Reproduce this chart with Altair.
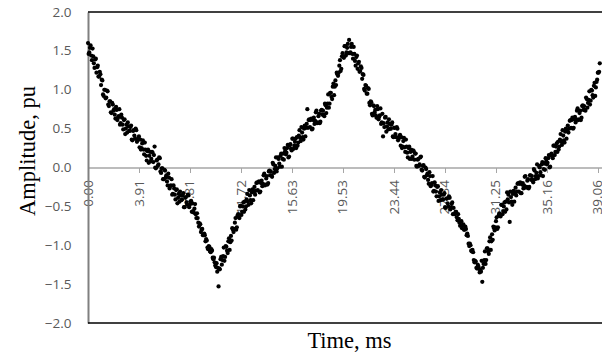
import altair as alt
import pandas as pd

# sampling period of the record, ms (two interleaved sample sets, 0.05 ms apart)
step_ms = 0.1
offset_b_ms = 0.05

# amplitude samples (pu), at t = 0.0, 0.1, 0.2 ... ms
amplitude_a = [
    1.60, 1.48, 1.57, 1.38, 1.43, 1.28, 1.40, 1.29, 1.17, 1.23,
    1.06, 1.12, 0.92, 1.00, 0.90, 0.98, 0.79, 0.85, 0.70, 0.81,
    0.75, 0.63, 0.74, 0.64, 0.75, 0.57, 0.64, 0.49, 0.62, 0.50,
    0.45, 0.53, 0.47, 0.54, 0.35, 0.48, 0.37, 0.48, 0.35, 0.40,
    0.36, 0.25, 0.35, 0.17, 0.23, 0.09, 0.23, 0.15, 0.08, 0.20,
    0.07, 0.27, -0.01, 0.10, 0.04, 0.12, -0.07, -0.01, -0.15, -0.04,
    -0.10, -0.23, -0.13, -0.24, -0.15, -0.34, -0.27, -0.41, -0.28, -0.39,
    -0.44, -0.36, -0.41, -0.33, -0.51, -0.38, -0.48, -0.36, -0.48, -0.43,
    -0.46, -0.58, -0.47, -0.65, -0.65, -0.76, -0.73, -0.80, -0.87, -0.85,
    -0.95, -0.94, -1.05, -1.02, -1.09, -1.07, -1.18, -1.22, -1.28, -1.34,
    -1.53, -1.31, -1.15, -1.19, -1.03, -1.15, -1.02, -1.10, -0.91, -0.96,
    -0.94, -0.80, -0.79, -0.65, -0.77, -0.60, -0.65, -0.49, -0.57, -0.45,
    -0.44, -0.50, -0.34, -0.48, -0.36, -0.46, -0.28, -0.31, -0.35, -0.20,
    -0.29, -0.18, -0.31, -0.17, -0.21, -0.08, -0.22, -0.11, -0.20, -0.04,
    -0.05, -0.12, 0.04, -0.02, 0.13, -0.01, 0.11, 0.01, 0.18, 0.11,
    0.10, 0.21, 0.19, 0.29, 0.14, 0.30, 0.22, 0.37, 0.28, 0.37,
    0.39, 0.32, 0.48, 0.34, 0.45, 0.36, 0.54, 0.51, 0.75, 0.61,
    0.52, 0.63, 0.50, 0.64, 0.60, 0.73, 0.58, 0.69, 0.59, 0.74,
    0.73, 0.66, 0.80, 0.77, 0.94, 0.82, 0.96, 0.88, 1.08, 1.04,
    1.06, 1.20, 1.22, 1.38, 1.27, 1.47, 1.41, 1.56, 1.48, 1.59,
    1.64, 1.48, 1.59, 1.40, 1.46, 1.31, 1.44, 1.34, 1.23, 1.30,
    1.14, 1.19, 0.99, 1.05, 0.95, 1.01, 0.80, 0.84, 0.67, 0.79,
    0.74, 0.64, 0.75, 0.65, 0.76, 0.58, 0.40, 0.52, 0.65, 0.53,
    0.49, 0.56, 0.50, 0.58, 0.39, 0.51, 0.39, 0.50, 0.37, 0.42,
    0.39, 0.27, 0.38, 0.20, 0.27, 0.13, 0.27, 0.20, 0.11, 0.22,
    0.10, 0.18, 0.01, 0.11, 0.04, 0.14, -0.04, 0.03, -0.13, -0.02,
    -0.08, -0.21, -0.11, -0.22, -0.11, -0.30, -0.23, -0.37, -0.24, -0.37,
    -0.42, -0.35, -0.41, -0.33, -0.52, -0.40, -0.50, -0.39, -0.52, -0.45,
    -0.52, -0.60, -0.57, -0.68, -0.66, -0.75, -0.69, -0.74, -0.80, -0.76,
    -0.87, -0.88, -1.01, -1.00, -1.08, -1.09, -1.22, -1.21, -1.30, -1.27,
    -1.35, -1.34, -1.47, -1.24, -1.08, -1.19, -1.04, -1.11, -0.90, -0.95,
    -0.93, -0.78, -0.77, -0.64, -0.77, -0.59, -0.63, -0.48, -0.56, -0.45,
    -0.44, -0.32, -0.35, -0.70, -0.38, -0.48, -0.30, -0.33, -0.36, -0.21,
    -0.31, -0.19, -0.33, -0.20, -0.23, -0.11, -0.25, -0.15, -0.25, -0.10,
    -0.11, -0.19, -0.04, -0.11, 0.04, -0.11, 0.00, -0.10, 0.07, -0.02,
    -0.03, 0.08, 0.06, 0.16, 0.01, 0.18, 0.12, 0.28, 0.20, 0.31,
    0.33, 0.27, 0.43, 0.29, 0.41, 0.32, 0.50, 0.48, 0.45, 0.60,
    0.51, 0.64, 0.51, 0.65, 0.62, 0.76, 0.62, 0.73, 0.64, 0.80,
    0.79, 0.73, 0.88, 0.83, 0.98, 0.86, 0.99, 0.90, 1.09, 1.03,
    1.13, 1.22, 1.34,
]

# amplitude samples (pu), at t = 0.05, 0.15, 0.25 ... ms
amplitude_b = [
    1.46, 1.54, 1.44, 1.53, 1.34, 1.39, 1.22, 1.31, 1.17, 1.20,
    1.13, 0.94, 1.00, 0.89, 0.99, 0.81, 0.85, 0.71, 0.83, 0.73,
    0.68, 0.78, 0.61, 0.66, 0.55, 0.68, 0.55, 0.61, 0.43, 0.55,
    0.58, 0.47, 0.52, 0.36, 0.47, 0.41, 0.50, 0.33, 0.38, 0.26,
    0.23, 0.31, 0.23, 0.32, 0.15, 0.21, 0.06, 0.20, 0.11, 0.19,
    0.16, 0.00, 0.09, 0.02, 0.13, -0.05, -0.01, -0.15, -0.03, -0.13,
    -0.18, -0.08, -0.27, -0.23, -0.35, -0.23, -0.35, -0.29, -0.46, -0.34,
    -0.31, -0.42, -0.36, -0.51, -0.39, -0.45, -0.35, -0.51, -0.44, -0.57,
    -0.56, -0.53, -0.60, -0.59, -0.71, -0.72, -0.83, -0.79, -0.87, -0.87,
    -0.92, -1.03, -1.01, -1.08, -1.05, -1.16, -1.16, -1.26, -1.23, -1.29,
    -1.30, -1.18, -1.25, -1.14, -1.20, -1.01, -1.07, -0.95, -1.06, -0.88,
    -0.78, -0.83, -0.71, -0.80, -0.62, -0.64, -0.50, -0.61, -0.50, -0.57,
    -0.54, -0.41, -0.44, -0.29, -0.42, -0.32, -0.42, -0.25, -0.30, -0.19,
    -0.19, -0.32, -0.20, -0.24, -0.10, -0.23, -0.14, -0.22, -0.05, -0.10,
    -0.10, 0.06, -0.07, 0.02, -0.05, 0.13, 0.05, 0.15, 0.01, 0.18,
    0.25, 0.17, 0.25, 0.13, 0.28, 0.24, 0.37, 0.24, 0.33, 0.25,
    0.28, 0.41, 0.38, 0.52, 0.39, 0.50, 0.40, 0.56, 0.51, 0.62,
    0.61, 0.49, 0.61, 0.56, 0.71, 0.57, 0.66, 0.57, 0.73, 0.68,
    0.68, 0.82, 0.70, 0.82, 0.77, 0.96, 0.91, 1.04, 0.93, 1.12,
    1.22, 1.18, 1.31, 1.24, 1.43, 1.42, 1.56, 1.44, 1.54, 1.47,
    1.47, 1.55, 1.46, 1.55, 1.37, 1.42, 1.27, 1.36, 1.24, 1.28,
    1.20, 1.01, 1.06, 0.95, 1.02, 0.83, 0.85, 0.69, 0.80, 0.71,
    0.67, 0.79, 0.62, 0.67, 0.56, 0.69, 0.57, 0.64, 0.46, 0.58,
    0.62, 0.50, 0.55, 0.40, 0.51, 0.43, 0.52, 0.35, 0.40, 0.28,
    0.25, 0.34, 0.26, 0.36, 0.19, 0.25, 0.11, 0.23, 0.14, 0.21,
    0.18, 0.02, 0.10, 0.02, 0.13, -0.03, 0.02, -0.12, 0.00, -0.10,
    -0.16, -0.06, -0.24, -0.20, -0.31, -0.19, -0.31, -0.25, -0.43, -0.32,
    -0.29, -0.41, -0.35, -0.51, -0.40, -0.46, -0.37, -0.54, -0.47, -0.60,
    -0.60, -0.57, -0.64, -0.60, -0.71, -0.70, -0.78, -0.73, -0.80, -0.79,
    -0.85, -0.98, -0.98, -1.07, -1.06, -1.19, -1.20, -1.29, -1.25, -1.30,
    -1.32, -1.20, -1.29, -1.19, -1.24, -1.04, -1.08, -0.95, -1.06, -0.86,
    -0.76, -0.81, -0.69, -0.79, -0.62, -0.62, -0.48, -0.60, -0.50, -0.57,
    -0.54, -0.41, -0.45, -0.31, -0.44, -0.34, -0.44, -0.26, -0.31, -0.20,
    -0.21, -0.33, -0.22, -0.27, -0.12, -0.26, -0.17, -0.27, -0.10, -0.16,
    -0.16, -0.02, -0.15, -0.07, -0.14, 0.02, -0.06, 0.04, -0.11, 0.05,
    0.12, 0.04, 0.12, 0.00, 0.16, 0.14, 0.28, 0.16, 0.27, 0.20,
    0.23, 0.36, 0.33, 0.48, 0.35, 0.46, 0.37, 0.54, 0.50, 0.61,
    0.61, 0.50, 0.62, 0.58, 0.73, 0.61, 0.70, 0.61, 0.79, 0.74,
    0.74, 0.90, 0.77, 0.87, 0.81, 1.00, 0.93, 1.05, 0.92, 1.10,
    1.22, 1.23,
]

time_a = [round(i * step_ms, 2) for i in range(len(amplitude_a))]
time_b = [round(offset_b_ms + i * step_ms, 2) for i in range(len(amplitude_b))]

# axis tick labels as printed on the reference
x_ticks = [0.00, 3.91, 7.81, 11.72, 15.63, 19.53, 23.44, 27.34, 31.25, 35.16, 39.06]
y_ticks = [-2.0, -1.5, -1.0, -0.5, 0.0, 0.5, 1.0, 1.5, 2.0]

df = pd.concat(
    [
        pd.DataFrame({"time_ms": time_a, "amplitude": amplitude_a}),
        pd.DataFrame({"time_ms": time_b, "amplitude": amplitude_b}),
    ],
    ignore_index=True,
)

W, H = 514, 311
LABEL_FONT = "Open Sans"
TITLE_FONT = "Liberation Serif"

points = alt.Chart(df).mark_circle(size=18, color="black", opacity=1).encode(
    x=alt.X(
        "time_ms:Q",
        scale=alt.Scale(domain=[0, 39.37], nice=False, zero=False),
        axis=alt.Axis(
            values=x_ticks,
            format=".2f",
            labelAngle=270,
            labelFont=LABEL_FONT,
            labelFontSize=13.5,
            labelColor="#595959",
            labelPadding=7,
            labelFlush=False,
            labelOverlap=False,
            labelBound=False,
            tickSize=5,
            tickColor="#a6a6a6",
            tickWidth=1,
            domainColor="#a6a6a6",
            domainWidth=1.5,
            grid=False,
            offset=-155.5,
            title="Time, ms",
            titleFont=TITLE_FONT,
            titleFontSize=22.5,
            titleFontWeight="normal",
            titleColor="black",
            titleX=261,
            titleY=179.5,
            titleAlign="center",
            titleBaseline="alphabetic",
        ),
    ),
    y=alt.Y(
        "amplitude:Q",
        scale=alt.Scale(domain=[-2, 2], nice=False, zero=False),
        axis=alt.Axis(
            values=y_ticks,
            format=".1f",
            ticks=False,
            grid=False,
            labelFont=LABEL_FONT,
            labelFontSize=13.5,
            labelColor="#595959",
            labelPadding=17,
            domainColor="#808080",
            domainWidth=2,
            title="Amplitude, pu",
            titleFont=TITLE_FONT,
            titleFontSize=22.5,
            titleFontWeight="normal",
            titleColor="black",
            titleAngle=270,
            titleX=-54,
            titleY=138.5,
            titleAlign="center",
            titleBaseline="alphabetic",
        ),
    ),
)

edge = pd.DataFrame({"edge": ["box"]})
top_line = alt.Chart(edge).mark_rule(color="black", strokeWidth=1.5).encode(
    x=alt.value(0), x2=alt.value(W), y=alt.value(0)
)
bottom_line = alt.Chart(edge).mark_rule(color="black", strokeWidth=1.5).encode(
    x=alt.value(0), x2=alt.value(W), y=alt.value(H)
)

chart = (
    alt.layer(top_line, bottom_line, points)
    .properties(
        width=W,
        height=H,
        autosize=alt.AutoSizeParams(type="none"),
        padding={"left": 88, "top": 12, "right": 0, "bottom": 32},
        background="white",
    )
    .configure_view(stroke=None)
)

chart.save("out.html", embed_options={"renderer": "svg", "actions": False})
